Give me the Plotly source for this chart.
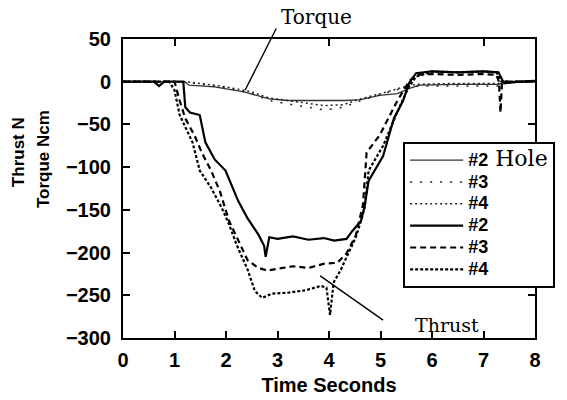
import plotly.graph_objects as go

# ---------------- data ----------------
x_ticks = [0, 1, 2, 3, 4, 5, 6, 7, 8]
y_ticks = [50, 0, -50, -100, -150, -200, -250, -300]
top_ticks = [1, 4, 7]
right_ticks = [-50, -250]

torque2_t = [0, 1.2, 1.28, 1.78, 2.35, 2.84, 3.2, 3.6, 3.91, 4.3, 4.62, 4.98, 5.33, 5.55, 5.76, 6.5, 7.3, 7.4, 8.0]
torque2_v = [0, 0, -4, -6, -12, -20, -22, -22, -22, -22, -21, -16, -14, -8, -4, -3, -3, 0, 0]

torque3_t = [0, 1.2, 1.5, 2.0, 2.5, 2.84, 3.2, 3.6, 3.91, 4.27, 4.62, 5.0, 5.4, 5.7, 6.5, 7.3, 7.4, 8.0]
torque3_v = [0, 0, -3, -7, -14, -22, -26, -30, -33, -30, -22, -15, -8, -5, -5, -5, 0, 0]

torque4_t = [0, 1.2, 1.5, 2.0, 2.5, 2.84, 3.2, 3.6, 3.91, 4.27, 4.62, 5.0, 5.4, 5.7, 6.5, 7.3, 7.4, 8.0]
torque4_v = [0, 0, -2, -6, -12, -19, -22, -25, -28, -27, -20, -14, -7, -3, -2, -2, 0, 0]

thrust2_t = [0, 0.6, 0.7, 0.8, 1.17, 1.21, 1.3, 1.49, 1.6, 1.78, 1.99, 2.13, 2.24, 2.42, 2.63,
             2.74, 2.77, 2.84, 3.0, 3.3, 3.6, 3.9, 4.1, 4.34, 4.45, 4.62, 4.69, 4.77, 5.05,
             5.26, 5.44, 5.55, 5.69, 6.0, 6.5, 7.0, 7.29, 7.4, 7.7, 8.0]
thrust2_v = [0, 0, -5, 0, 0, -30, -36, -39, -71, -91, -104, -124, -140, -160, -179,
             -192, -205, -182, -184, -181, -185, -183, -186, -184, -175, -163, -146, -116, -87,
             -43, -22, -2, 10, 12, 11, 12, 11, -2, 0, 1]

thrust3_t = [0, 1.0, 1.10, 1.21, 1.39, 1.53, 1.71, 1.88, 2.06, 2.24, 2.42, 2.63, 2.8, 3.0,
             3.3, 3.6, 3.91, 4.16, 4.34, 4.52, 4.59, 4.66, 4.73, 4.98, 5.33, 5.55, 5.69, 6.0,
             6.5, 7.0, 7.25, 7.3, 7.33, 7.36, 7.45, 8.0]
thrust3_v = [0, 0, -22, -43, -63, -83, -104, -128, -163, -186, -209, -218, -221, -219,
             -216, -218, -213, -212, -201, -180, -163, -144, -83, -63, -22, 0, 8, 9,
             8, 9, 8, 0, -36, 0, 0, 0]

thrust4_t = [0, 0.9, 1.0, 1.10, 1.35, 1.49, 1.71, 1.92, 2.06, 2.2, 2.42, 2.56, 2.7, 2.9,
             3.2, 3.56, 3.84, 3.95, 4.02, 4.09, 4.23, 4.37, 4.52, 4.62, 4.69, 4.77, 5.05,
             5.33, 5.55, 5.69, 6.0, 6.5, 7.0, 7.25, 7.35, 8.0]
thrust4_v = [0, 0, -10, -39, -71, -104, -124, -148, -167, -190, -220, -245, -253, -248,
             -247, -244, -239, -241, -273, -235, -220, -201, -182, -163, -148, -104, -75,
             -35, -6, 6, 12, 11, 12, 11, 0, 0]

# annotation anchor points
torque_line = dict(x0=2.99, y0=64, x1=2.37, y1=-10)   # data units
thrust_line = dict(x0=3.8, y0=-226, x1=5.05, y1=-279)
thrust_label = dict(x=6.3, y=-285)

# ---------------- figure ----------------
SERIF = "DejaVu Serif"
SANS = "Liberation Sans"

def nm(num, extra=""):
    s = "<span style='font-size:18px'><b>%s</b></span>" % num
    if extra:
        s += "<span style='font-family:%s;font-size:22px'> %s</span>" % (SERIF, extra)
    return s

fig = go.Figure()
fig.add_trace(go.Scatter(x=torque2_t, y=torque2_v, mode="lines", name=nm("#2", "Hole"),
                         line=dict(color="#333333", width=1.3)))
fig.add_trace(go.Scatter(x=torque3_t, y=torque3_v, mode="lines", name=nm("#3"),
                         line=dict(color="#222222", width=1.5, dash="2px,8px")))
fig.add_trace(go.Scatter(x=torque4_t, y=torque4_v, mode="lines", name=nm("#4"),
                         line=dict(color="#222222", width=1.5, dash="2px,3px")))
fig.add_trace(go.Scatter(x=thrust2_t, y=thrust2_v, mode="lines", name=nm("#2"),
                         line=dict(color="black", width=2.2)))
fig.add_trace(go.Scatter(x=thrust3_t, y=thrust3_v, mode="lines", name=nm("#3"),
                         line=dict(color="black", width=2.2, dash="6px,4px")))
fig.add_trace(go.Scatter(x=thrust4_t, y=thrust4_v, mode="lines", name=nm("#4"),
                         line=dict(color="black", width=2.2, dash="3px,2px")))
# invisible carrier for the top/right tick axes
fig.add_trace(go.Scatter(x=thrust2_t, y=thrust2_v, xaxis="x2", yaxis="y2", mode="lines",
                         line=dict(width=0), opacity=0, showlegend=False, hoverinfo="skip"))

tick_common = dict(ticks="inside", ticklen=7, tickwidth=1.5, tickcolor="black")
label_font = dict(family=SANS, size=20, color="black", weight="bold")

fig.update_layout(
    xaxis=dict(range=[0, 8], tickvals=x_ticks, showgrid=False, zeroline=False, showline=True,
               linecolor="black", linewidth=2, mirror=True, tickfont=label_font,
               ticklabelstandoff=3,
               title=dict(text="<b>Time Seconds</b>", font=dict(family=SANS, size=20, color="black"),
                          standoff=8),
               **tick_common),
    yaxis=dict(range=[-300, 50], tickvals=y_ticks, showgrid=False, zeroline=False, showline=True,
               linecolor="black", linewidth=2, mirror=True, tickfont=label_font,
               ticklabelstandoff=6, **tick_common),
    xaxis2=dict(range=[0, 8], overlaying="x", side="top", tickvals=top_ticks,
                showticklabels=False, showgrid=False, zeroline=False, showline=False,
                **tick_common),
    yaxis2=dict(range=[-300, 50], overlaying="y", side="right", tickvals=right_ticks,
                showticklabels=False, showgrid=False, zeroline=False, showline=False,
                **tick_common),
)

fig.add_annotation(text="<b>Thrust N</b>", xref="paper", yref="paper", x=-0.2536, y=0.62,
                   xanchor="center", yanchor="middle", textangle=-90, showarrow=False,
                   font=dict(family=SANS, size=17, color="black"))
fig.add_annotation(text="<b>Torque Ncm</b>", xref="paper", yref="paper", x=-0.193, y=0.60,
                   xanchor="center", yanchor="middle", textangle=-90, showarrow=False,
                   font=dict(family=SANS, size=17, color="black"))

fig.add_annotation(text="Torque", x=3.75, y=1.075, xref="x", yref="paper",
                   xanchor="center", yanchor="middle",
                   showarrow=False, font=dict(family=SERIF, size=20, color="black"))
fig.add_annotation(text="", x=torque_line["x1"], y=torque_line["y1"], xref="x", yref="y",
                   ax=torque_line["x0"], ay=torque_line["y0"], axref="x", ayref="y",
                   showarrow=True, arrowhead=0, arrowwidth=1.4, arrowcolor="black")
fig.add_annotation(text="Thrust", x=thrust_label["x"], y=thrust_label["y"], xref="x", yref="y",
                   showarrow=False, font=dict(family=SERIF, size=19, color="black"))
fig.add_annotation(text="", x=thrust_line["x1"], y=thrust_line["y1"], xref="x", yref="y",
                   ax=thrust_line["x0"], ay=thrust_line["y0"], axref="x", ayref="y",
                   showarrow=True, arrowhead=0, arrowwidth=1.4, arrowcolor="black")

fig.update_layout(
    width=567, height=400,
    margin=dict(l=123, r=32, t=39, b=62, autoexpand=False),
    paper_bgcolor="white", plot_bgcolor="white",
    font=dict(family=SANS, color="black"),
    legend=dict(x=0.68, y=0.655, xanchor="left", yanchor="top",
                bgcolor="white", bordercolor="black", borderwidth=2,
                font=dict(family=SANS, size=14.5, color="black"),
                tracegroupgap=0, itemwidth=53),
)

fig.write_html("out.html")
